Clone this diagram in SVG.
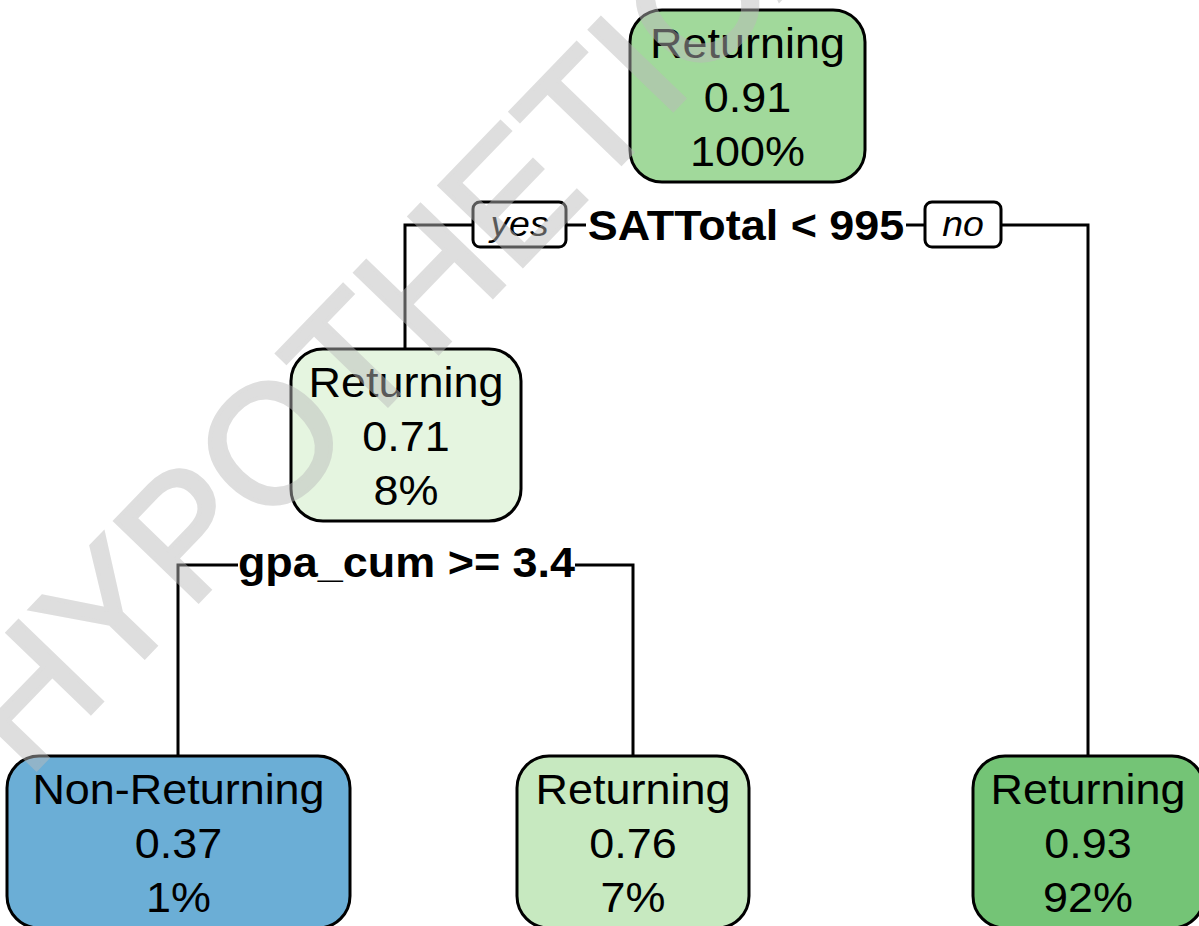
<svg xmlns="http://www.w3.org/2000/svg" width="1199" height="926" viewBox="0 0 1199 926">
<style>
.box{stroke:#000;stroke-width:3}
.t{font-family:"Liberation Sans",Arial,sans-serif;font-size:42px;text-anchor:middle;fill:#000}
.b{font-family:"Liberation Sans",Arial,sans-serif;font-size:42px;font-weight:bold;text-anchor:middle;fill:#000}
.yn{font-family:"Liberation Sans",Arial,sans-serif;font-size:35px;font-style:italic;text-anchor:middle;fill:#000}
.lbl{fill:#fff;stroke:#000;stroke-width:3}
.e{fill:none;stroke:#000;stroke-width:3}
.wm{font-family:"Liberation Sans",Arial,sans-serif;font-size:168px;fill:#bbbbbb;stroke:#bbbbbb;stroke-width:4;opacity:0.48}
</style>
<rect width="1199" height="926" fill="#fff"/>
<g id="connectors">
<polyline class="e" points="405,349 405,225 473,225"/>
<line class="e" x1="566" y1="225" x2="586" y2="225"/>
<line class="e" x1="906" y1="225" x2="925" y2="225"/>
<polyline class="e" points="1001,225 1088,225 1088,756"/>
<polyline class="e" points="178,756 178,565 238,565"/>
<polyline class="e" points="575,565 633,565 633,756"/>
<g id="split1">
<rect class="lbl" x="473" y="202" width="93" height="45" rx="7"/>
<text class="yn" transform="translate(519.5,236) scale(1.07 1)">yes</text>
<text class="b" transform="translate(746,240) scale(1.07 1)">SATTotal &lt; 995</text>
<rect class="lbl" x="925" y="202" width="76" height="45" rx="7"/>
<text class="yn" transform="translate(963,236) scale(1.07 1)">no</text>
</g>
<g id="split2">
<text class="b" transform="translate(406.5,577) scale(1.07 1)">gpa_cum &gt;= 3.4</text>
</g>
</g>
<g id="root">
<rect class="box" x="630" y="10" width="235" height="172" rx="32" fill="#A1D99B"/>
<text class="t" transform="translate(747.5,58) scale(1.07 1)">Returning</text>
<text class="t" transform="translate(747.5,112) scale(1.07 1)">0.91</text>
<text class="t" transform="translate(747.5,166) scale(1.07 1)">100%</text>
</g>
<g id="node2">
<rect class="box" x="291" y="349" width="230" height="172" rx="32" fill="#E5F5E0"/>
<text class="t" transform="translate(406,397) scale(1.07 1)">Returning</text>
<text class="t" transform="translate(406,451) scale(1.07 1)">0.71</text>
<text class="t" transform="translate(406,505) scale(1.07 1)">8%</text>
</g>
<g id="leaf1">
<rect class="box" x="7" y="756" width="343" height="172" rx="32" fill="#6BAED6"/>
<text class="t" transform="translate(178.5,804) scale(1.07 1)">Non-Returning</text>
<text class="t" transform="translate(178.5,858) scale(1.07 1)">0.37</text>
<text class="t" transform="translate(178.5,912) scale(1.07 1)">1%</text>
</g>
<g id="leaf2">
<rect class="box" x="517" y="756" width="232" height="172" rx="32" fill="#C7E9C0"/>
<text class="t" transform="translate(633,804) scale(1.07 1)">Returning</text>
<text class="t" transform="translate(633,858) scale(1.07 1)">0.76</text>
<text class="t" transform="translate(633,912) scale(1.07 1)">7%</text>
</g>
<g id="leaf3">
<rect class="box" x="973" y="756" width="231" height="172" rx="32" fill="#74C476"/>
<text class="t" transform="translate(1088,804) scale(1.07 1)">Returning</text>
<text class="t" transform="translate(1088,858) scale(1.07 1)">0.93</text>
<text class="t" transform="translate(1088,912) scale(1.07 1)">92%</text>
</g>
<text class="wm" transform="translate(27,779) rotate(-46)">HYPOTHETICAL</text>
</svg>
